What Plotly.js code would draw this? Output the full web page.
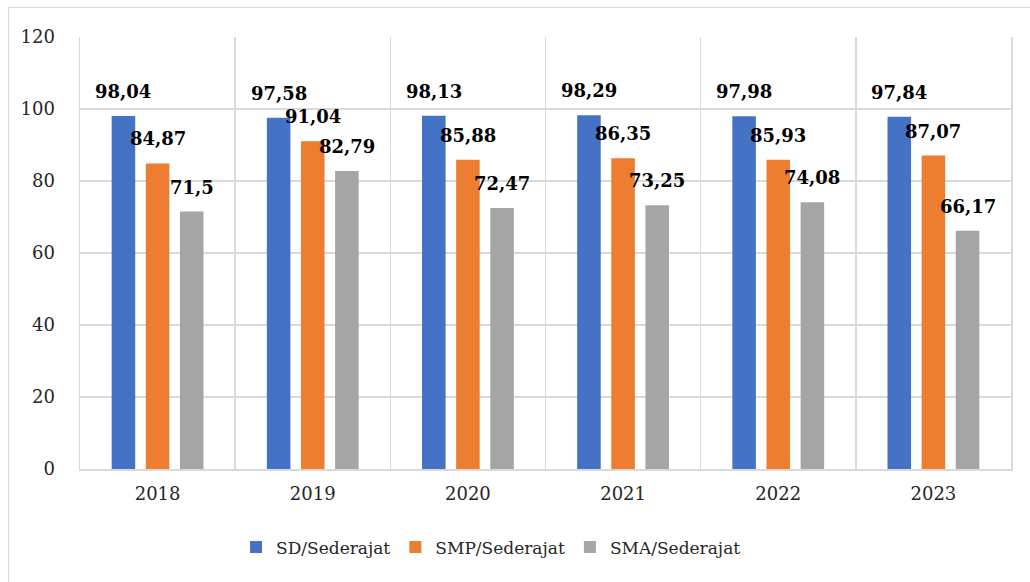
<!DOCTYPE html>
<html>
<head>
<meta charset="utf-8">
<script src="https://cdn.plot.ly/plotly-3.0.1.min.js"></script>
<style>
html,body{margin:0;padding:0;background:#fff;}
#wrap{position:relative;width:1030px;height:582px;overflow:hidden;}
#chart{width:1030px;height:582px;}
#frame{position:absolute;left:8px;top:7px;width:1040px;height:600px;border:1px solid #d9d9d9;pointer-events:none;}
</style>
</head>
<body>
<div id="wrap"><div id="chart"></div><div id="frame"></div></div>
<script>
const years = ['2018','2019','2020','2021','2022','2023'];
const seriesNames = ['SD/Sederajat','SMP/Sederajat','SMA/Sederajat'];
const sd  = [98.04, 97.58, 98.13, 98.29, 97.98, 97.84];
const smp = [84.87, 91.04, 85.88, 86.35, 85.93, 87.07];
const sma = [71.5, 82.79, 72.47, 73.25, 74.08, 66.17];
const colors = ['#4472C4','#ED7D31','#A5A5A5'];
const allSeries = [sd, smp, sma];

const FONT = 'DejaVu Serif';

const traces = allSeries.map((vals, i) => ({
  type: 'bar',
  name: seriesNames[i],
  x: years,
  y: vals,
  marker: {color: colors[i]},
  hoverinfo: 'none'
}));

const fmt = v => String(v).replace('.', ',');
const shifts = [-34.2, 0, 34.2];
const annotations = [];
allSeries.forEach((vals, i) => {
  vals.forEach((v, j) => {
    annotations.push({
      x: j, y: v, xref: 'x', yref: 'y',
      text: '<b>' + fmt(v) + '</b>',
      showarrow: false,
      xanchor: 'center', yanchor: 'bottom',
      xshift: shifts[i], yshift: 12,
      font: {family: FONT, size: 18, color: '#000'}
    });
  });
});

const layout = {
  width: 1030, height: 582,
  margin: {l: 80, r: 19, t: 37, b: 113},
  paper_bgcolor: '#fff', plot_bgcolor: '#fff',
  barmode: 'group',
  bargap: 0.34,
  bargroupgap: 0.31,
  font: {family: FONT, size: 18, color: '#262626'},
  xaxis: {
    type: 'category',
    range: [-0.5, 5.5],
    autorange: false,
    tickson: 'boundaries',
    showgrid: true, gridcolor: '#d9d9d9', gridwidth: 1.5,
    ticks: '',
    ticklabelstandoff: 8,
    tickangle: 0,
    showline: true, linecolor: '#d9d9d9', linewidth: 1.5,
    tickfont: {family: FONT, size: 18, color: '#262626'},
    fixedrange: true
  },
  yaxis: {
    range: [0, 120],
    autorange: false,
    dtick: 20,
    showgrid: true, gridcolor: '#d9d9d9', gridwidth: 1.5,
    zeroline: false,
    showline: true, mirror: true, linecolor: '#d9d9d9', linewidth: 1.5,
    ticks: '',
    ticklabelstandoff: 20,
    tickfont: {family: FONT, size: 18, color: '#262626'},
    fixedrange: true
  },
  showlegend: true,
  legend: {
    orientation: 'h',
    x: 0.4415, xanchor: 'center',
    y: -0.14, yanchor: 'top',
    font: {family: FONT, size: 17, color: '#262626'},
    itemwidth: 30,
    traceorder: 'normal'
  },
  annotations: annotations
};

Plotly.newPlot('chart', traces, layout, {displayModeBar: false, staticPlot: true});
</script>
</body>
</html>
